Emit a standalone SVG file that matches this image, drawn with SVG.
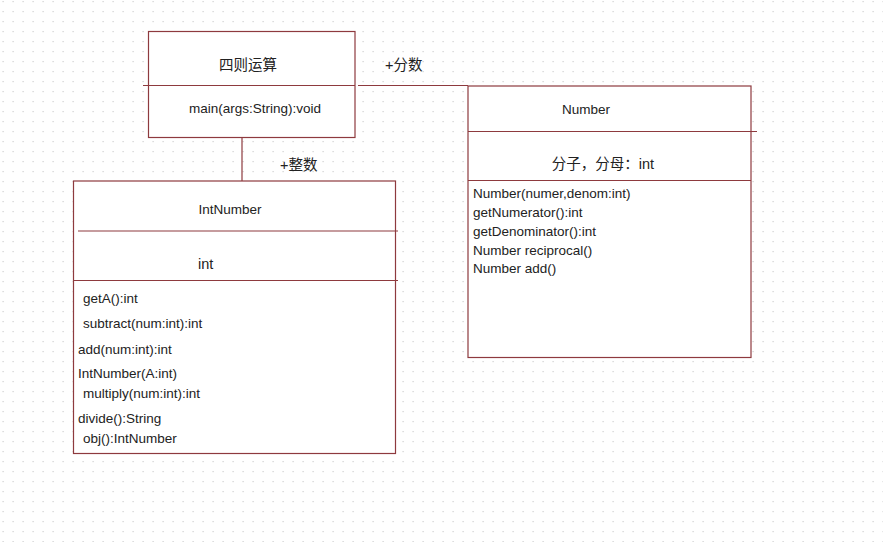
<svg xmlns="http://www.w3.org/2000/svg" width="883" height="542" viewBox="0 0 883 542">
<defs>
<pattern id="grid" x="0" y="0" width="10" height="10" patternUnits="userSpaceOnUse">
<rect x="2.5" y="1" width="1.2" height="1.2" fill="#cfcfcf"/>
</pattern>
<style>
.box{fill:#ffffff;stroke:#8e3a3e;stroke-width:1.2}
.ln{fill:none;stroke:#8e3a3e;stroke-width:1.2}
text{font-family:"Liberation Sans","Noto Sans CJK SC",sans-serif;fill:#222222}
.t{font-size:13.5px}
.c{font-size:14.5px}
.m{text-anchor:middle}
</style>
</defs>
<rect width="883" height="542" fill="#ffffff"/>
<rect width="883" height="542" fill="url(#grid)"/>
<g id="connectors">
<line class="ln" x1="358" y1="85.5" x2="468" y2="85.5"/>
<line class="ln" x1="242" y1="137" x2="242" y2="181"/>
<text class="c" x="385" y="70">+分数</text>
<text class="c" x="280" y="170">+整数</text>
</g>
<g id="sizeyunsuan">
<rect class="box" x="148.5" y="31.5" width="206.5" height="106"/>
<line class="ln" x1="143" y1="85.5" x2="355" y2="85.5"/>
<text class="c m" x="248" y="70">四则运算</text>
<text class="t m" x="255" y="113">main(args:String):void</text>
</g>
<g id="number">
<rect class="box" x="468" y="86" width="283" height="271.5"/>
<line class="ln" x1="468" y1="131.5" x2="757" y2="131.5"/>
<line class="ln" x1="468" y1="180.5" x2="751" y2="180.5"/>
<text class="t m" x="586" y="114">Number</text>
<text class="c m" x="603" y="169">分子，分母：int</text>
<text class="t" x="473" y="198">Number(numer,denom:int)</text>
<text class="t" x="473" y="217">getNumerator():int</text>
<text class="t" x="473" y="236">getDenominator():int</text>
<text class="t" x="473" y="255">Number reciprocal()</text>
<text class="t" x="473" y="273">Number add()</text>
</g>
<g id="intnumber">
<rect class="box" x="73.5" y="181" width="322" height="272.5"/>
<line class="ln" x1="78" y1="231" x2="398" y2="231"/>
<line class="ln" x1="73.5" y1="280.5" x2="398" y2="280.5"/>
<text class="t m" x="230" y="214">IntNumber</text>
<text class="c" x="198" y="269">int</text>
<text class="t" x="83" y="303">getA():int</text>
<text class="t" x="83" y="328">subtract(num:int):int</text>
<text class="t" x="78" y="354">add(num:int):int</text>
<text class="t" x="78" y="378">IntNumber(A:int)</text>
<text class="t" x="83" y="398">multiply(num:int):int</text>
<text class="t" x="78" y="423">divide():String</text>
<text class="t" x="83" y="443">obj():IntNumber</text>
</g>
</svg>
